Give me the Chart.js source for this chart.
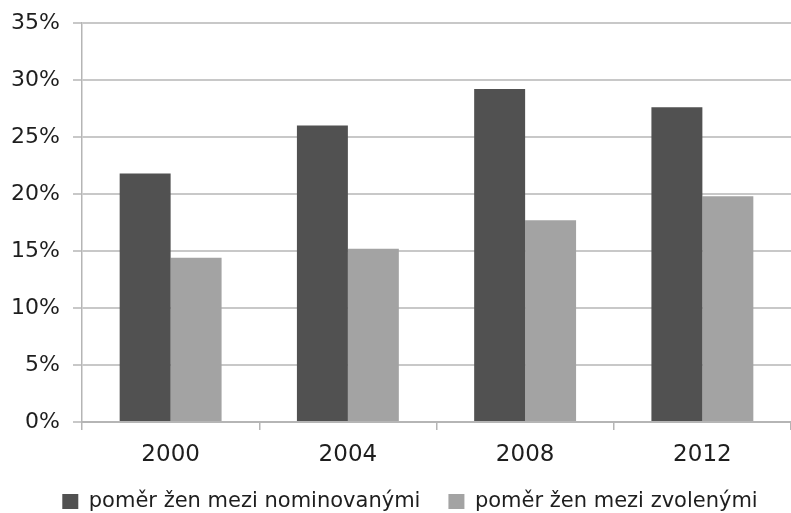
<!DOCTYPE html>
<html>
<head>
<meta charset="utf-8">
<script src="https://cdn.jsdelivr.net/npm/chart.js@4"></script>
<style>
html,body{margin:0;padding:0;background:#fff;}
#wrap{width:791px;height:513px;}
</style>
</head>
<body>
<div id="wrap"><canvas id="c" width="791" height="513"></canvas></div>
<script>
const years = ['2000', '2004', '2008', '2012'];
const nominated = [21.8, 26.0, 29.2, 27.6];
const elected = [14.4, 15.2, 17.7, 19.8];
const seriesNames = ['poměr žen mezi nominovanými', 'poměr žen mezi zvolenými'];
const yTicks = [0, 5, 10, 15, 20, 25, 30, 35];

const FONT = '"DejaVu Sans", sans-serif';
new Chart(document.getElementById('c'), {
  type: 'bar',
  data: {
    labels: years,
    datasets: [
      { label: seriesNames[0], data: nominated, backgroundColor: '#515151', borderWidth: 0,
        categoryPercentage: 0.575, barPercentage: 1.0 },
      { label: seriesNames[1], data: elected, backgroundColor: '#a3a3a3', borderWidth: 0,
        categoryPercentage: 0.575, barPercentage: 1.0 }
    ]
  },
  options: {
    responsive: false,
    animation: false,
    devicePixelRatio: 1,
    layout: { padding: { top: 23, right: -29, left: 0, bottom: 0 } },
    plugins: {
      tooltip: { enabled: false },
      legend: {
        position: 'bottom',
        maxHeight: 50,
        labels: {
          color: '#1e1e1e',
          font: { family: FONT, size: 21 },
          boxWidth: 16,
          boxHeight: 15,
          padding: 28
        }
      }
    },
    scales: {
      x: {
        afterFit: (s) => { s.height = 41; },
        grid: { offset: true, drawOnChartArea: false, drawTicks: true, tickLength: 8, color: '#b5b5b5', lineWidth: 1.5 },
        border: { display: true, color: '#b5b5b5', width: 2 },
        ticks: { color: '#1e1e1e', font: { family: FONT, size: 23 }, padding: 11 }
      },
      y: {
        min: 0, max: 35,
        afterBuildTicks: (s) => { s.ticks = yTicks.map(v => ({ value: v })); },
        afterFit: (s) => { s.width = 82; s.paddingTop = 0; s.paddingBottom = 0; },
        grid: { color: '#c8c8c8', lineWidth: 2, tickLength: 9, drawTicks: true },
        border: { display: true, color: '#b5b5b5', width: 1.5 },
        ticks: { color: '#1e1e1e', font: { family: FONT, size: 22 }, padding: 13,
                 callback: (v) => v + '%' }
      }
    }
  }
});
</script>
</body>
</html>
